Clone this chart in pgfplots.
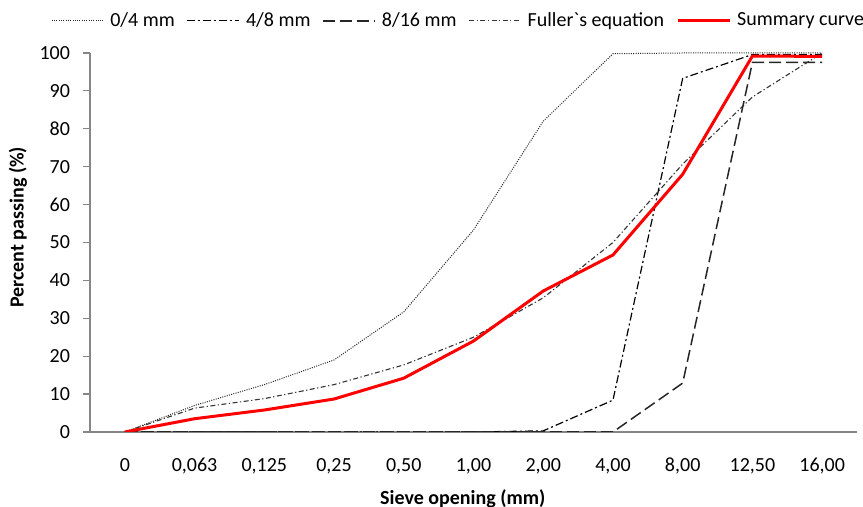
\documentclass[border=0pt]{standalone}
\usepackage{fontspec}
\setmainfont{Carlito}
\newfontfamily\plainfont{Carlito}
\usepackage{pgfplots}
\pgfplotsset{compat=1.18}
\definecolor{axgray}{HTML}{868686}
\begin{document}
\begin{tikzpicture}
\begin{axis}[
  scale only axis, width=383.5pt, height=189.5pt,
  xmin=-0.5, xmax=10.5, ymin=0, ymax=100,
  xtick={0,1,...,10},
  xticklabels={0,{0,063},{0,125},{0,25},{0,50},{1,00},{2,00},{4,00},{8,00},{12,50},{16,00}},
  ytick={0,10,...,100},
  axis lines*=left,
  axis line style={draw=axgray, line width=0.6pt},
  xtick style={draw=none},
  ytick style={draw=axgray, line width=0.6pt},
  tick align=outside, major tick length=3.5pt,
  tick label style={font=\fontsize{10}{12}\selectfont},
  /pgf/number format/assume math mode=true,
  xticklabel style={yshift=-6pt},
  yticklabel style={xshift=-3pt},
  xlabel={\bfseries Sieve opening (mm)},
  ylabel={\bfseries Percent passing (\%)},
  label style={font=\fontsize{10}{12}\selectfont},
  xlabel style={at={(axis description cs:0.486,-0.175)}, anchor=center},
  ylabel style={at={(axis description cs:-0.094,0.54)}, anchor=center},
  legend columns=5,
  legend style={at={(0.482,1.085)}, anchor=center, draw=none, fill=none,
    font=\fontsize{10}{12}\selectfont,
    /tikz/every even column/.append style={column sep=4pt},
    /tikz/every odd column/.append style={column sep=1pt}},
  legend image code/.code={\draw[#1] (0pt,0pt) -- (26pt,0pt);},
]
\addplot[black!85, line width=0.5pt, dash pattern=on 0.5pt off 0.65pt] coordinates {
 (0,0) (1,7) (2,12.5) (3,19) (4,31.7) (5,53.3) (6,82) (7,99.8) (8,100) (9,100) (10,100)};
\addlegendentry{0/4 mm}
\addplot[black, line width=0.6pt, dash pattern=on 4pt off 1.5pt on 1pt off 1.5pt] coordinates {
 (0,0) (1,0) (2,0) (3,0) (4,0) (5,0) (6,0.3) (7,8.4) (8,93.3) (9,99.6) (10,99.6)};
\addlegendentry{4/8 mm}
\addplot[black!85, line width=0.75pt, dash pattern=on 6pt off 2.5pt] coordinates {
 (0,0) (1,0) (2,0) (3,0) (4,0) (5,0) (6,0) (7,0) (8,12.9) (9,97.5) (10,97.5)};
\addlegendentry{8/16 mm}
\addplot[black!80, line width=0.55pt, dash pattern=on 2.5pt off 1.25pt on 0.6pt off 1.25pt] coordinates {
 (0,0) (1,6.3) (2,8.8) (3,12.5) (4,17.7) (5,25.0) (6,35.4) (7,50.0) (8,70.7) (9,88.4) (10,100)};
\addlegendentry{Fuller{\plainfont `}s equation}
\addplot[red, line width=1.5pt] coordinates {
 (0,0) (1,3.5) (2,5.8) (3,8.7) (4,14.2) (5,24) (6,37.2) (7,46.7) (8,68) (9,99.2) (10,99.1)};
\addlegendentry{Summary curve}
\end{axis}
\pgfresetboundingbox
\useasboundingbox (-45pt,-37.5pt) rectangle (386.5pt,216pt);
\end{tikzpicture}
\end{document}
